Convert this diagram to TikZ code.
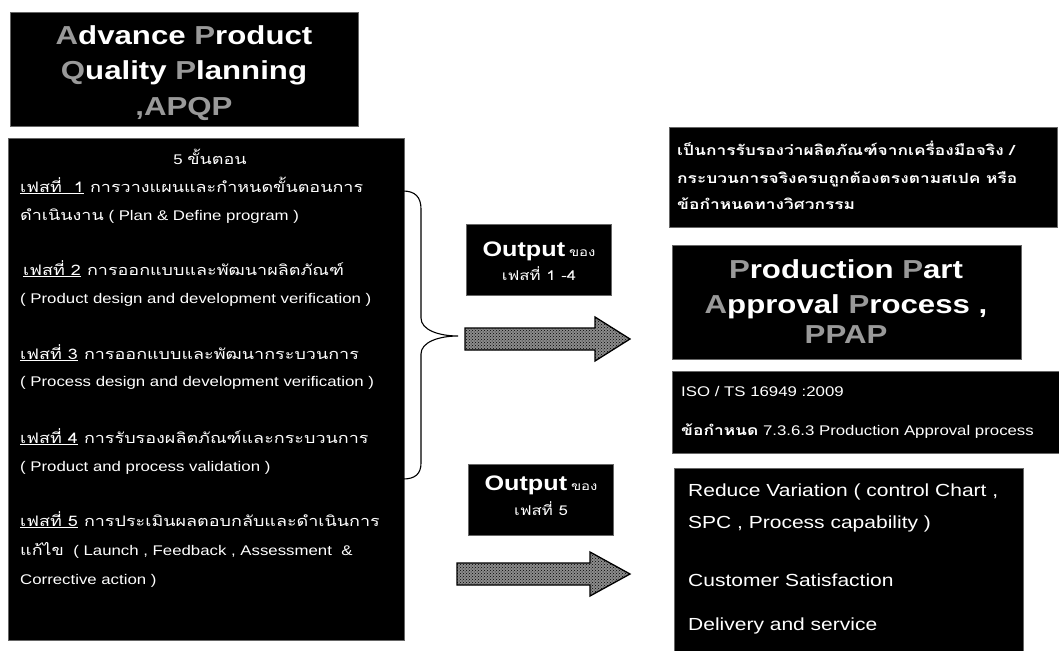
\documentclass[tikz,border=0pt]{standalone}
\usepackage{fontspec}
\newfontfamily\arial[FakeStretch=1.2]{Liberation Sans}
\newfontfamily\thai[Script=Thai,FakeStretch=1.24]{Loma}
\usetikzlibrary{calc,patterns}

\definecolor{hollow}{gray}{0.6}
\definecolor{grain}{gray}{0.55}

% outlined capitals are shown in a light grey
\newcommand\hl[1]{{\color{hollow}#1}}
\newcommand\fs[1]{\fontsize{#1}{#1}\selectfont}

\tikzset{
  panel/.style={fill=black, draw=black!60, line width=0.5pt, inner sep=0pt, anchor=north west},
  ln/.style={text=white, inner sep=0pt, anchor=base west, font=\arial\fs{14}},
  lnc/.style={ln, anchor=base},
  headline/.style={text=white, inner sep=0pt, anchor=base, font=\arial\bfseries\fs{26}},
  bigline/.style={ln, font=\arial\fs{17.5}},
  smallline/.style={ln, font=\arial\fs{14}},
  thaibold/.style={ln, font=\thai\bfseries\fs{14}},
  blockarrow/.style={fill=grain},
  blockgrain/.style={pattern=crosshatch dots, pattern color=black},
  blockedge/.style={draw=black, line width=1.3pt, line join=miter},
  bracket/.style={draw=black, line width=1.1pt, line cap=round},
}

\begin{document}
\begin{tikzpicture}[x=1pt, y=-1pt]
\useasboundingbox[fill=white] (0,0) rectangle (1059,650);

% ---------- title ----------
\node[panel, minimum width=348, minimum height=114] (title) at (10,12) {};
\node[headline] (t1) at (184,45) {\hl{A}dvance \hl{P}roduct};
\node[headline] (t2) at (184,80) {\hl{Q}uality \hl{P}lanning};
\node[headline] (t3) at (184,115) {\hl{,APQP}};

% ---------- the five phases ----------
\node[panel, minimum width=396, minimum height=502] (phases) at (8,138) {};
\node[lnc] (p0) at (210,164) {5 {\thai\fs{14.5}ขั้นตอน}};
\node[ln] (p1a) at (20,192) {{\thai\fs{14.5}\underline{เฟสที่ \ 1} การวางแผนและกำหนดขั้นตอนการ}};
\node[ln] (p1b) at (20,220) {{\thai\fs{14.5}ดำเนินงาน} ( Plan \& Define program )};
\node[ln] (p2a) at (23,275) {{\thai\fs{14.5}\underline{เฟสที่ 2} การออกแบบและพัฒนาผลิตภัณฑ์}};
\node[ln] (p2b) at (20,303) {( Product design and development verification )};
\node[ln] (p3a) at (20,359) {{\thai\fs{14.5}\underline{เฟสที่ 3} การออกแบบและพัฒนากระบวนการ}};
\node[ln] (p3b) at (20,386) {( Process design and development verification )};
\node[ln] (p4a) at (20,443) {{\thai\fs{14.5}\underline{เฟสที่ 4} การรับรองผลิตภัณฑ์และกระบวนการ}};
\node[ln] (p4b) at (20,471) {( Product and process validation )};
\node[ln] (p5a) at (20,526) {{\thai\fs{14.5}\underline{เฟสที่ 5} การประเมินผลตอบกลับและดำเนินการ}};
\node[ln] (p5b) at (20,555) {{\thai\fs{14.5}แก้ไข} \ ( Launch , Feedback , Assessment \ \&};
\node[ln] (p5c) at (20,584) {Corrective action )};

% ---------- curly bracket gathering phases 1-4 ----------
\coordinate (bTop) at (403,191);
\coordinate (bTip) at (458,336);
\coordinate (bBot) at (403,479);
\draw[bracket] (bTop) .. controls (415,191) and (421,197) .. (421,209)
  -- (421,318) .. controls (421,330) and (439,336) .. (bTip)
  .. controls (439,336) and (421,342) .. (421,354)
  -- (421,463) .. controls (421,474) and (415,479) .. (bBot);

% ---------- outputs ----------
\node[panel, minimum width=145, minimum height=71] (out1) at (466,224) {};
\node[lnc] (o1a) at (539,256) {{\arial\bfseries\fs{21}Output}\;{\thai\fs{12}ของ}};
\node[lnc] (o1b) at (539,280) {{\thai\fs{13.5}เฟสที่ 1 -4}};

\node[panel, minimum width=145, minimum height=71] (out2) at (468,464) {};
\node[lnc] (o2a) at (541,490) {{\arial\bfseries\fs{21}Output}\;{\thai\fs{12}ของ}};
\node[lnc] (o2b) at (541,515) {{\thai\fs{13.5}เฟสที่ 5}};

% block arrows with a grainy fill
\foreach \sty in {blockarrow, blockgrain, blockedge}{
  \path[\sty] (465,328) -- (595,328) -- (595,317) -- (630,339)
    -- (595,361) -- (595,350) -- (465,350) -- cycle;
  \path[\sty] (457,563) -- (590,563) -- (590,552) -- (630,574)
    -- (590,596) -- (590,585) -- (457,585) -- cycle;
}

% ---------- right column ----------
\node[panel, minimum width=388, minimum height=100] (desc) at (669,127) {};
\node[thaibold] (d1) at (677,155) {เป็นการรับรองว่าผลิตภัณฑ์จากเครื่องมือจริง /};
\node[thaibold] (d2) at (677,183) {กระบวนการจริงครบถูกต้องตรงตามสเปค หรือ};
\node[thaibold] (d3) at (677,209) {ข้อกำหนดทางวิศวกรรม};

\node[panel, minimum width=349, minimum height=114] (ppap) at (672,245) {};
\node[headline] (q1) at (846,278) {\hl{P}roduction \hl{P}art};
\node[headline] (q2) at (846,313) {\hl{A}pproval \hl{P}rocess ,};
\node[headline] (q3) at (846,343) {\hl{PPAP}};

\node[panel, minimum width=387, minimum height=82] (iso) at (672,371) {};
\node[smallline] (i1) at (681,396) {ISO / TS 16949 :2009};
\node[smallline] (i2) at (681,435) {{\thai\bfseries ข้อกำหนด} 7.3.6.3 Production Approval process};

\node[panel, minimum width=349, minimum height=183] (gain) at (674,468) {};
\node[bigline] (g1) at (688,496) {Reduce Variation ( control Chart ,};
\node[bigline] (g2) at (688,528) {SPC , Process capability )};
\node[bigline] (g3) at (688,586) {Customer Satisfaction};
\node[bigline] (g4) at (688,630) {Delivery and service};
\end{tikzpicture}
\end{document}
